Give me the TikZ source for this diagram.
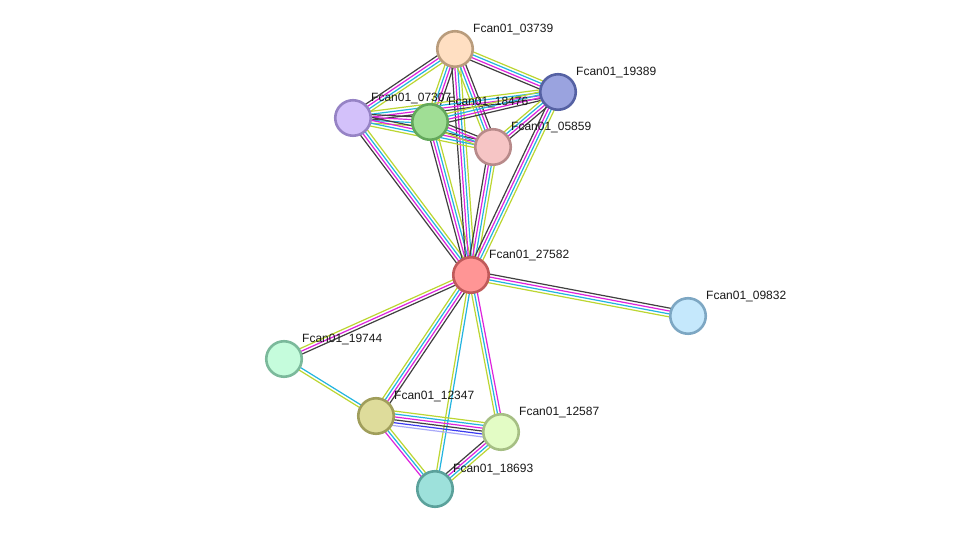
\documentclass[tikz,border=0pt]{standalone}
\usepackage{fontspec}
\setmainfont{Liberation Sans}
\usetikzlibrary{calc}
\pgfdeclarelayer{bg}
\pgfdeclarelayer{paper}
\pgfsetlayers{paper,bg,main}
\definecolor{eblk}{HTML}{404040}
\definecolor{emag}{HTML}{DD22DD}
\definecolor{ecya}{HTML}{22B4E0}
\definecolor{eyel}{HTML}{BCD631}
\definecolor{eblu}{HTML}{3A3AF0}
\definecolor{elav}{HTML}{A8A8F8}
\tikzset{
  prot/.style={circle, minimum size=35.5pt, inner sep=0pt, line width=2.6pt},
  lbl/.style={anchor=west, inner sep=0pt, font=\fontsize{12}{14}\selectfont, text=black!90},
  evline/.style={line width=1.2pt}
}
\newcommand\stredge[3]{%
  \xdef\edgecount{0}%
  \foreach \c in {#3}{\xdef\edgecount{\the\numexpr\edgecount+1\relax}}%
  \foreach \c [count=\i] in {#3}{%
    \pgfmathsetmacro\off{((\edgecount+1)/2-\i)*2.9}%
    \draw[evline,\c] ($(#1.center)!\off pt!90:(#2.center)$) -- ($(#2.center)!\off pt!-90:(#1.center)$);}}
\newcommand\prot[6]{%
  \definecolor{#1fill}{HTML}{#4}%
  \definecolor{#1draw}{HTML}{#5}%
  \node[prot, fill=#1fill, draw=#1draw] (#1) at (#2,{534-#3}) {};
  \node[lbl] (#1-l) at ({#2+18},{534-#3+19.5}) {#6};}
\begin{document}
\begin{tikzpicture}[x=1pt,y=1pt]
\useasboundingbox (0,0) rectangle (976,534);
\begin{pgfonlayer}{paper}
\fill[white] (0,0) rectangle (976,534);
\end{pgfonlayer}
\prot{a03739}{455}{49}{FFDFC2}{B99C7C}{Fcan01\_03739}
\prot{a19389}{558}{92}{9AA3DF}{5561A3}{Fcan01\_19389}
\prot{a07307}{353}{118}{D3C1FA}{9683C5}{Fcan01\_07307}
\prot{a18476}{430}{122}{A0DE95}{63A85B}{Fcan01\_18476}
\prot{a05859}{493}{147}{F6C5C5}{B88A8A}{Fcan01\_05859}
\prot{a27582}{471}{275}{FF9595}{C05A5A}{Fcan01\_27582}
\prot{a09832}{688}{316}{C5E8FC}{7DA7C3}{Fcan01\_09832}
\prot{a19744}{284}{359}{C5FCDC}{7BB99B}{Fcan01\_19744}
\prot{a12347}{376}{416}{DEDC9B}{A09E5B}{Fcan01\_12347}
\prot{a12587}{501}{432}{E3FCC5}{A6BF84}{Fcan01\_12587}
\prot{a18693}{435}{489}{9DE1DB}{5BA19B}{Fcan01\_18693}
\begin{pgfonlayer}{bg}
\stredge{a27582}{a07307}{eblk,emag,ecya,eyel}
\stredge{a27582}{a18476}{eblk,emag,ecya,eyel}
\stredge{a27582}{a03739}{eblk,emag,ecya,eyel}
\stredge{a27582}{a05859}{eblk,emag,ecya,eyel}
\stredge{a27582}{a19389}{eblk,emag,ecya,eyel}
\stredge{a27582}{a09832}{eblk,emag,ecya,eyel}
\stredge{a27582}{a19744}{eblk,emag,eyel}
\stredge{a27582}{a12347}{eblk,emag,ecya,eyel}
\stredge{a27582}{a12587}{emag,ecya,eyel}
\stredge{a27582}{a18693}{ecya,eyel}
\stredge{a19744}{a12347}{ecya,eyel}
\stredge{a18693}{a12347}{emag,ecya,eyel}
\stredge{a18693}{a12587}{eblk,emag,ecya,eyel}
\stredge{a12587}{a12347}{elav,eblu,eblk,emag,ecya,eyel}
\stredge{a19389}{a03739}{eblk,emag,ecya,eyel}
\stredge{a07307}{a03739}{eblk,emag,ecya,eyel}
\stredge{a03739}{a18476}{eblk,emag,ecya,eyel}
\stredge{a03739}{a05859}{eblk,emag,ecya,eyel}
\stredge{a19389}{a07307}{eblk,emag,ecya,eyel}
\stredge{a19389}{a18476}{eblk,emag,ecya,eyel}
\stredge{a19389}{a05859}{eblk,emag,ecya,eyel}
\stredge{a07307}{a18476}{eblk,emag,ecya,eyel}
\stredge{a07307}{a05859}{eblk,emag,ecya,eyel}
\stredge{a18476}{a05859}{eblk,emag,ecya,eyel}
\end{pgfonlayer}
\end{tikzpicture}
\end{document}
